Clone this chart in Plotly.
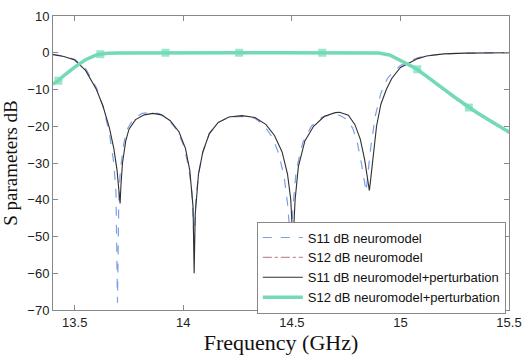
import plotly.graph_objects as go

# S11 neuromodel (blue dashed)
f_s11_nm = [13.40, 13.45, 13.50, 13.55, 13.60, 13.63, 13.66, 13.68, 13.69, 13.697, 13.703, 13.71,
            13.725, 13.74, 13.77, 13.81, 13.85, 13.89, 13.93, 13.97, 14.00, 14.025, 14.04, 14.05,
            14.058, 14.07, 14.09, 14.12, 14.16, 14.21, 14.27, 14.33, 14.37, 14.41, 14.44, 14.465,
            14.48, 14.495, 14.505, 14.52, 14.55, 14.59, 14.64, 14.69, 14.72, 14.75, 14.78, 14.80,
            14.82, 14.835, 14.842, 14.85, 14.865, 14.885, 14.91, 14.94, 14.97, 15.00, 15.04, 15.08,
            15.12, 15.20, 15.30, 15.50]
s11_nm = [-0.4, -0.9, -1.8, -4.3, -9.5, -14.5, -22.0, -30.0, -38.0, -68.0, -40.0, -32.0,
          -25.0, -21.0, -18.0, -16.5, -16.2, -16.6, -18.0, -21.0, -25.0, -31.0, -38.0, -52.0,
          -40.0, -33.0, -27.0, -22.0, -19.0, -17.6, -17.3, -17.8, -19.6, -23.0, -27.5, -34.0,
          -41.0, -52.0, -42.0, -32.0, -24.5, -20.0, -17.5, -16.8, -17.0, -18.0, -20.5, -24.0,
          -30.0, -36.0, -37.8, -33.0, -25.0, -17.0, -11.0, -7.0, -5.0, -3.5, -2.3, -1.4,
          -0.8, -0.3, -0.1, 0.0]

# S11 neuromodel + perturbation (black solid)
f_s11_p = [13.40, 13.45, 13.50, 13.55, 13.60, 13.63, 13.66, 13.68, 13.695, 13.705, 13.709, 13.713,
           13.72, 13.735, 13.75, 13.78, 13.82, 13.86, 13.90, 13.94, 13.98, 14.01, 14.03, 14.045,
           14.05, 14.055, 14.07, 14.09, 14.12, 14.16, 14.21, 14.27, 14.33, 14.38, 14.42, 14.455,
           14.48, 14.495, 14.505, 14.515, 14.53, 14.56, 14.60, 14.65, 14.70, 14.72, 14.76, 14.79,
           14.815, 14.835, 14.85, 14.857, 14.862, 14.875, 14.89, 14.91, 14.935, 14.96, 15.00, 15.04,
           15.08, 15.12, 15.20, 15.30, 15.50]
s11_p = [-0.5, -1.0, -2.0, -4.8, -10.0, -14.5, -20.5, -26.0, -32.0, -38.0, -41.0, -36.0,
         -30.0, -24.0, -20.8, -18.2, -16.9, -16.5, -16.9, -18.5, -21.5, -26.0, -32.0, -42.0,
         -60.0, -44.0, -33.0, -27.0, -22.0, -19.0, -17.5, -17.1, -17.6, -19.5, -22.5, -27.0,
         -33.0, -40.0, -52.0, -40.0, -31.0, -24.0, -20.0, -17.3, -16.3, -16.2, -17.0, -19.5,
         -23.5, -29.0, -35.0, -37.5, -35.0, -28.0, -20.0, -14.0, -10.0, -7.0, -4.0, -2.8,
         -1.6, -0.9, -0.3, -0.1, 0.0]

# S12 curves
f_s12 = [13.40, 13.425, 13.45, 13.50, 13.55, 13.60, 13.618, 13.65, 13.70, 13.80, 13.918, 14.10,
         14.257, 14.45, 14.64, 14.80, 14.90, 14.95, 15.00, 15.05, 15.077, 15.12, 15.16, 15.20,
         15.25, 15.30, 15.315, 15.35, 15.40, 15.45, 15.50]
s12_p = [-8.5, -7.6, -6.2, -3.9, -1.9, -0.6, -0.4, -0.15, -0.05, 0.0, 0.0, 0.0,
         0.0, 0.0, 0.0, 0.0, -0.1, -0.6, -2.0, -3.6, -4.5, -6.3, -8.1, -9.9,
         -12.1, -14.3, -14.9, -16.2, -18.0, -19.8, -21.6]
s12_nm = [-8.6, -7.7, -6.3, -4.0, -2.0, -0.6, -0.45, -0.15, -0.05, 0.0, 0.0, 0.0,
          0.0, 0.0, 0.0, 0.0, -0.1, -0.7, -2.2, -3.9, -4.8, -6.6, -8.4, -10.2,
          -12.4, -14.6, -15.2, -16.5, -18.3, -20.1, -21.9]
marker_x = [13.425, 13.618, 13.918, 14.257, 14.64, 15.077, 15.315]

x_ticks = [13.5, 14, 14.5, 15, 15.5]
y_ticks = [-70, -60, -50, -40, -30, -20, -10, 0, 10]

msizes = [8 if f in marker_x else 0 for f in f_s12]

fig = go.Figure()
fig.add_trace(go.Scatter(x=f_s11_nm, y=s11_nm, mode="lines", name="S11 dB neuromodel",
                         line=dict(color="#7f9ee6", width=1.2, dash="dash")))
fig.add_trace(go.Scatter(x=f_s12, y=s12_nm, mode="lines", name="S12 dB neuromodel",
                         line=dict(color="#c49090", width=1.2, dash="dashdot")))
fig.add_trace(go.Scatter(x=f_s11_p, y=s11_p, mode="lines", name="S11 dB neuromodel+perturbation",
                         line=dict(color="#303030", width=1.1)))
fig.add_trace(go.Scatter(x=f_s12, y=s12_p, mode="lines+markers", name="S12 dB neuromodel+perturbation",
                         line=dict(color="#72dbb5", width=3.5),
                         marker=dict(symbol="square", size=msizes, color="#72dbb5", line=dict(width=0))))

axis_common = dict(showline=True, linecolor="#888888", linewidth=1, mirror="ticks",
                   ticks="inside", ticklen=5, tickcolor="#888888", showgrid=False, zeroline=False,
                   tickfont=dict(family="Liberation Sans, Arial, sans-serif", size=13, color="#222222"))

fig.update_layout(
    width=531, height=360,
    margin=dict(l=53, r=14, t=9, b=43),
    paper_bgcolor="white", plot_bgcolor="white",
    xaxis=dict(range=[13.4, 15.5], tickvals=x_ticks, ticktext=[str(v) for v in x_ticks],
               title=dict(text="Frequency (GHz)", standoff=6,
                          font=dict(family="Liberation Serif, Times New Roman, serif", size=22, color="#111111")),
               **axis_common),
    yaxis=dict(range=[-70, 10], tickvals=y_ticks,
               title=dict(text="S parameters dB", standoff=4,
                          font=dict(family="Liberation Serif, Times New Roman, serif", size=19, color="#111111")),
               **axis_common),
    legend=dict(x=0.993, y=-0.012, xanchor="right", yanchor="bottom",
                bgcolor="white", bordercolor="#888888", borderwidth=1,
                font=dict(family="Liberation Sans, Arial, sans-serif", size=13, color="#111111"),
                tracegroupgap=0, itemwidth=40),
    showlegend=True,
)

fig.write_html("out.html")
